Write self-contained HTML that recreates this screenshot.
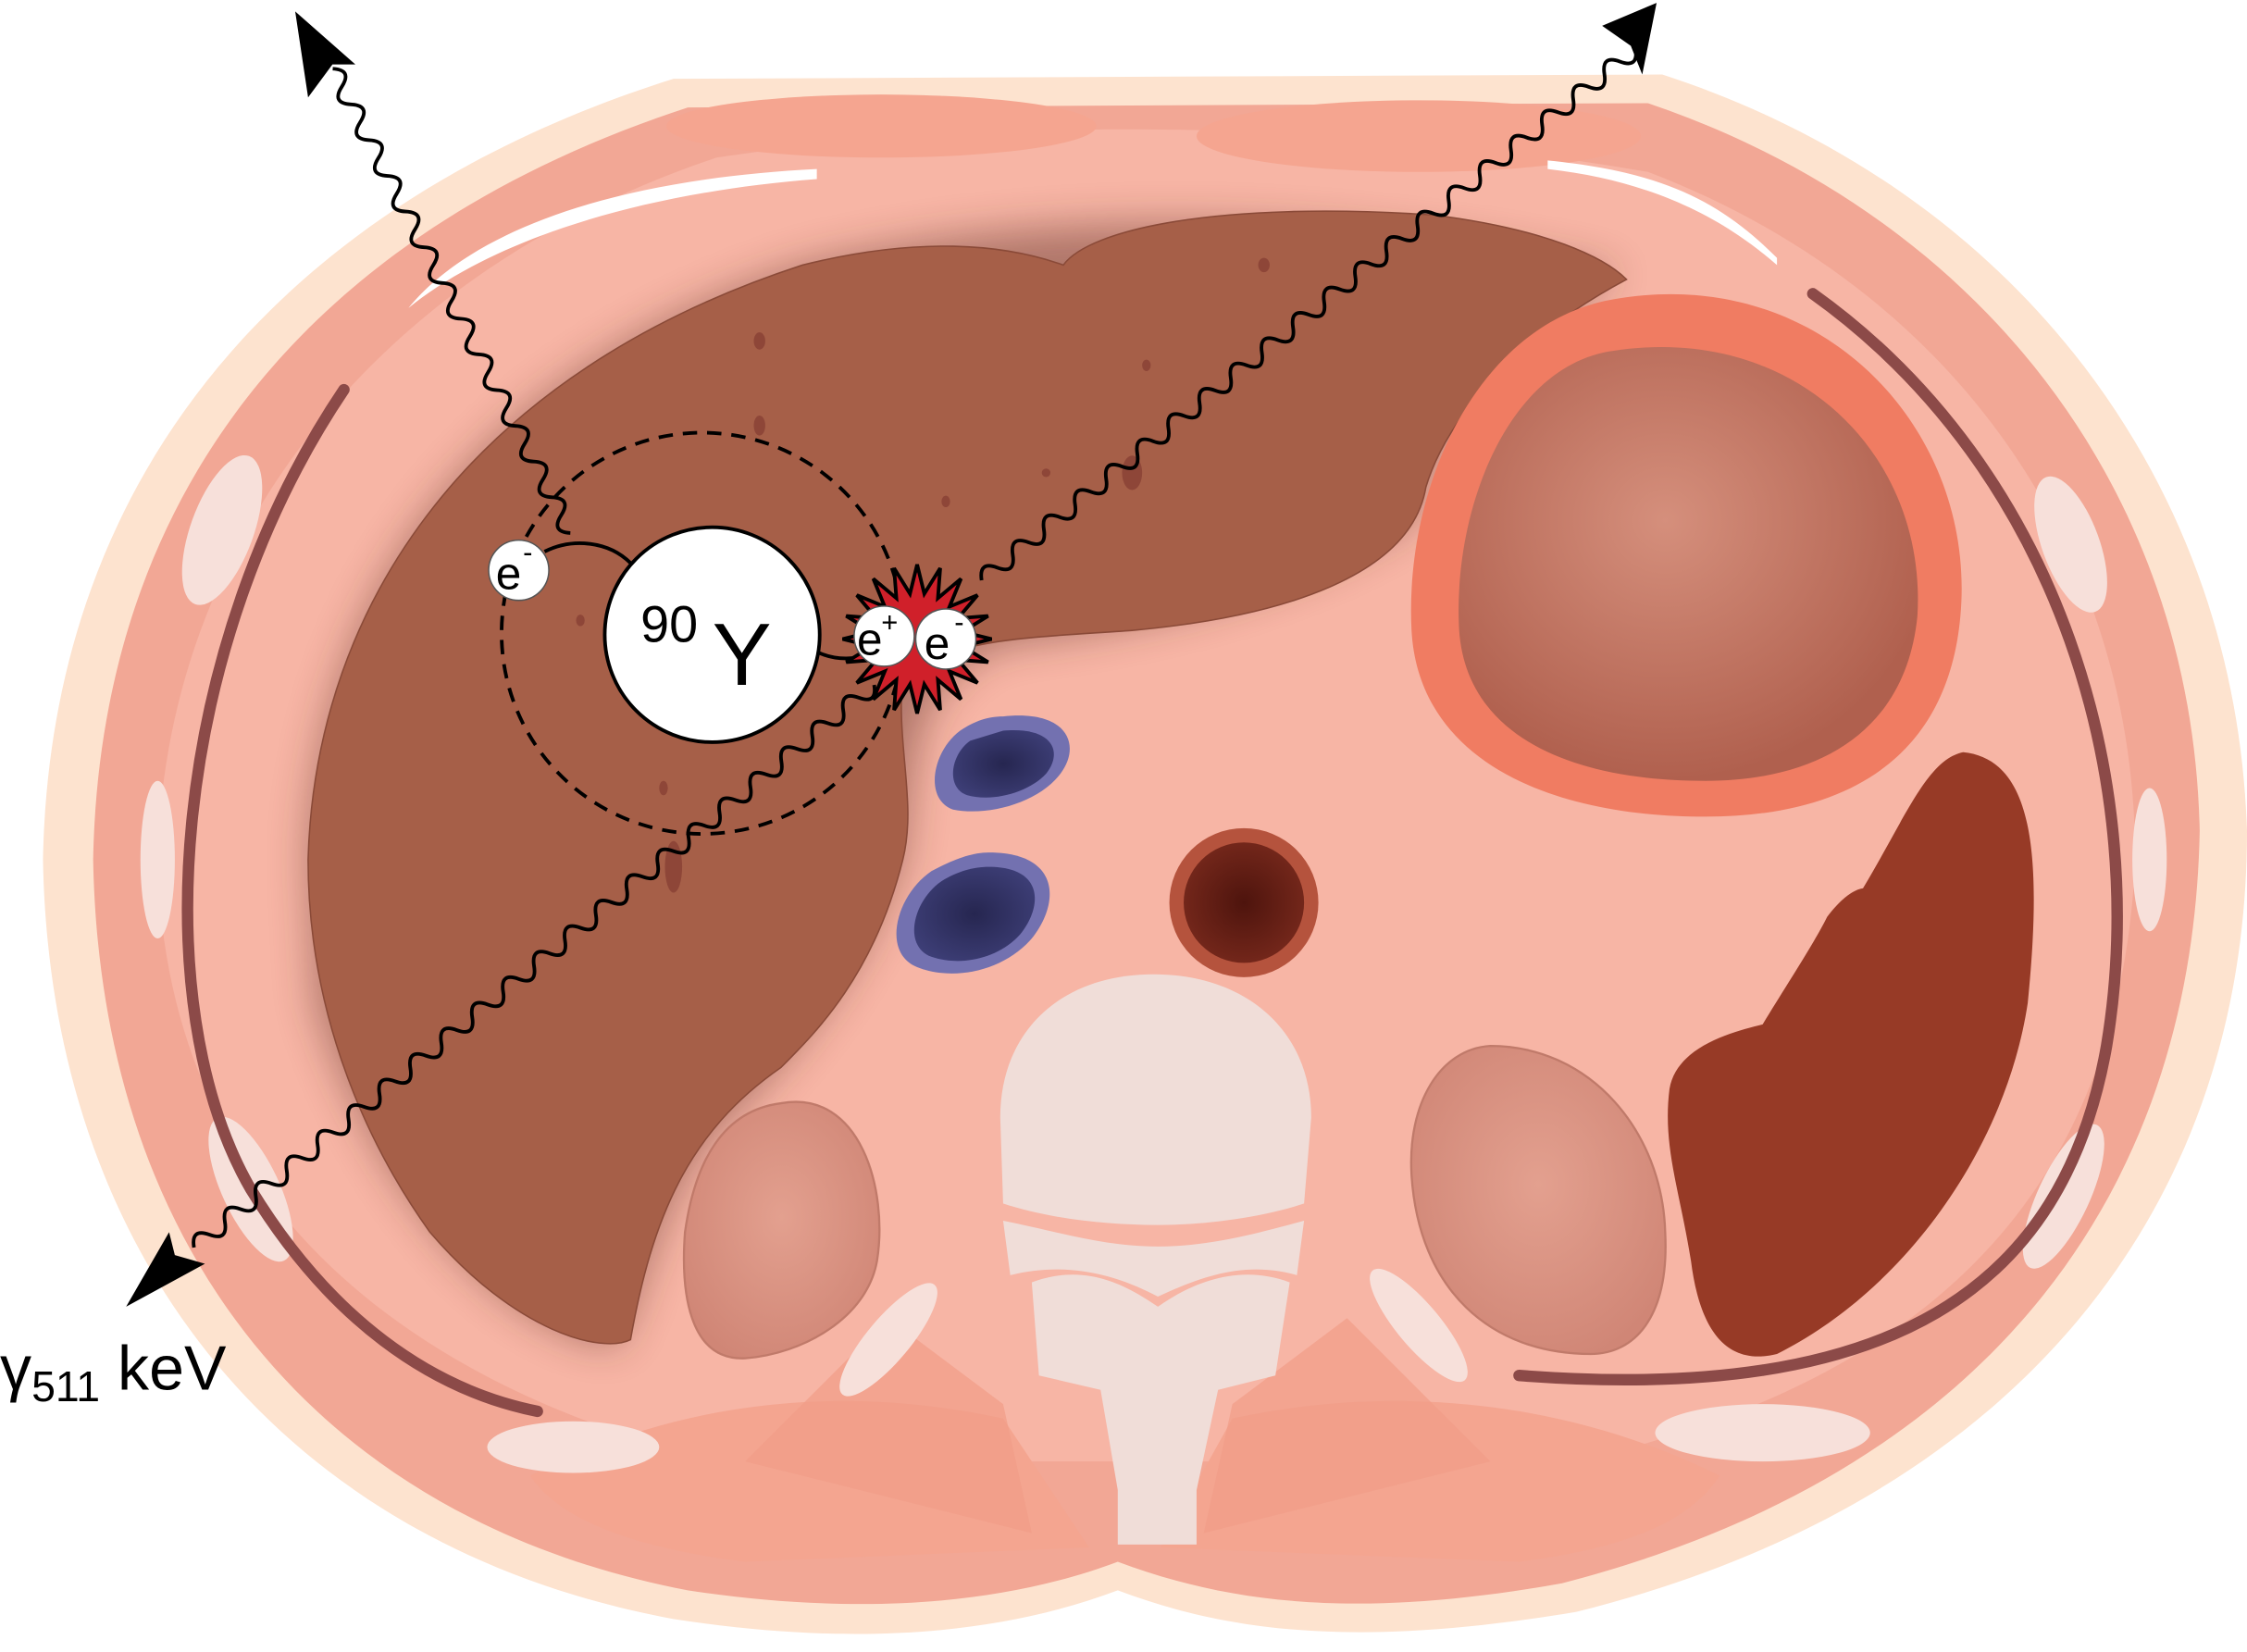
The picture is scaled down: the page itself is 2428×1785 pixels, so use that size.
<!DOCTYPE html>
<html><head><meta charset="utf-8"><style>
html,body{margin:0;padding:0;background:#fff;}
svg{display:block;}
</style></head><body>
<svg width="2428" height="1785" viewBox="0 0 1568 1153" preserveAspectRatio="none" xmlns="http://www.w3.org/2000/svg">
<defs>
<radialGradient id="stom" cx="0.45" cy="0.4" r="0.6"><stop offset="0" stop-color="#d58f7c"/><stop offset="1" stop-color="#b0604e"/></radialGradient>
<radialGradient id="kid" cx="0.5" cy="0.45" r="0.6"><stop offset="0" stop-color="#e3a08f"/><stop offset="1" stop-color="#d08676"/></radialGradient>
<radialGradient id="ivc" cx="0.5" cy="0.5" r="0.6"><stop offset="0" stop-color="#262650"/><stop offset="1" stop-color="#3e3f78"/></radialGradient>
<radialGradient id="ao" cx="0.5" cy="0.5" r="0.6"><stop offset="0" stop-color="#4e140d"/><stop offset="1" stop-color="#7a2a1d"/></radialGradient>
<filter id="sh" x="-20%" y="-20%" width="140%" height="140%"><feGaussianBlur stdDeviation="14"/></filter>
</defs>
<path d="M470,55 L1160,52 C1400,130 1560,330 1568,580 C1568,850 1400,1050 1100,1125 C950,1150 860,1140 780,1110 C700,1140 600,1150 470,1130 C200,1080 35,880 30,600 C35,330 200,140 470,55 Z" fill="#fde3cf"/>
<path d="M480,75 L1150,72 C1380,150 1530,340 1535,580 C1530,840 1380,1030 1090,1105 C950,1130 860,1120 780,1090 C700,1120 600,1128 480,1110 C220,1060 70,870 65,600 C70,340 220,160 480,75 Z" fill="#f2a795"/>
<path d="M500,110 C700,80 950,85 1150,120 C1360,200 1490,380 1490,600 C1480,820 1360,960 1100,1020 L500,1020 C260,960 115,820 110,600 C115,380 260,190 500,110 Z" fill="#f7b5a5"/>
<ellipse cx="615" cy="88" rx="150" ry="22" fill="#f5a590"/>
<ellipse cx="990" cy="95" rx="155" ry="25" fill="#f5a590"/>
<path d="M370,1030 C450,990 560,960 700,990 L760,1080 L520,1090 C440,1080 390,1060 370,1030Z" fill="#f4a590"/>
<path d="M1200,1030 C1120,990 1000,960 860,990 L810,1080 L1060,1090 C1140,1080 1180,1060 1200,1030Z" fill="#f4a590"/>
<path d="M520,1020 L620,920 L700,980 L720,1070Z" fill="#f19c88" opacity="0.7"/>
<path d="M1040,1020 L940,920 L860,980 L840,1070Z" fill="#f19c88" opacity="0.7"/>
<path d="M285,215 C330,160 430,125 570,118 L570,125 C440,135 340,170 285,215Z" fill="#fff"/>
<path d="M1240,180 C1200,140 1160,120 1080,112 L1080,118 C1150,126 1200,150 1240,185Z" fill="#fff"/>
<ellipse cx="155" cy="370" rx="22" ry="55" fill="#f7e0da" transform="rotate(20 155 370)"/>
<ellipse cx="110" cy="600" rx="12" ry="55" fill="#f7e0da"/>
<ellipse cx="175" cy="830" rx="20" ry="55" fill="#f7e0da" transform="rotate(-25 175 830)"/>
<ellipse cx="1445" cy="380" rx="20" ry="50" fill="#f7e0da" transform="rotate(-20 1445 380)"/>
<ellipse cx="1500" cy="600" rx="12" ry="50" fill="#f7e0da"/>
<ellipse cx="1440" cy="835" rx="18" ry="55" fill="#f7e0da" transform="rotate(25 1440 835)"/>
<ellipse cx="400" cy="1010" rx="60" ry="18" fill="#f7e0da"/>
<ellipse cx="1230" cy="1000" rx="75" ry="20" fill="#f7e0da"/>
<ellipse cx="620" cy="935" rx="15" ry="50" fill="#f7e0da" transform="rotate(40 620 935)"/>
<ellipse cx="990" cy="925" rx="15" ry="50" fill="#f7e0da" transform="rotate(-40 990 925)"/>
<path d="M240,272 C120,450 100,700 175,830 C230,920 300,970 375,985" fill="none" stroke="#8c4a48" stroke-width="8" stroke-linecap="round"/>
<path d="M1265,205 C1440,330 1500,550 1470,730 C1440,900 1320,980 1060,960" fill="none" stroke="#8c4a48" stroke-width="8" stroke-linecap="round"/>
<path d="M215,600 C220,420 330,260 560,185 C700,150 900,140 1130,190 C1060,240 1000,300 990,360 C900,420 780,440 700,450 C630,480 640,540 630,600 C600,680 560,730 500,790 C460,840 450,900 430,940 C350,930 260,830 220,700Z" fill="#5a2a20" opacity="0.45" filter="url(#sh)"/>
<path d="M215,600 C220,420 330,260 560,185 C640,165 700,170 742,185 C760,160 850,140 1000,150 C1080,160 1120,180 1135,195 C1060,235 1010,290 995,340 C985,400 900,430 790,440 C720,445 670,445 630,470 C625,520 640,560 630,600 C610,680 570,720 545,745 C480,790 455,850 440,935 C420,945 360,930 300,860 C250,790 215,700 215,600Z" fill="#a65f48" stroke="#8a4a38" stroke-width="1"/>
<g fill="#8e4638"><ellipse cx="530" cy="238" rx="4" ry="6"/><ellipse cx="882" cy="185" rx="4" ry="5"/><ellipse cx="800" cy="255" rx="3" ry="4"/><ellipse cx="530" cy="297" rx="4" ry="7"/><ellipse cx="790" cy="330" rx="7" ry="12"/><ellipse cx="660" cy="350" rx="3" ry="4"/><ellipse cx="405" cy="433" rx="3" ry="4"/><ellipse cx="463" cy="550" rx="3" ry="5"/><ellipse cx="470" cy="605" rx="6" ry="18"/><ellipse cx="730" cy="330" rx="3" ry="3"/></g>
<path d="M1120,210 C1270,180 1380,300 1368,430 C1360,520 1300,570 1190,570 C1080,570 990,530 985,440 C980,340 1030,230 1120,210Z" fill="#f07c62"/>
<path d="M1125,245 C1250,225 1345,315 1338,430 C1330,510 1270,545 1190,545 C1090,545 1020,510 1018,435 C1015,350 1055,255 1125,245Z" fill="url(#stom)"/>
<path d="M1370,525 C1420,530 1425,600 1415,700 C1400,800 1330,900 1240,945 C1200,955 1185,920 1180,880 C1172,830 1160,800 1165,760 C1170,730 1210,720 1230,715 C1245,690 1265,660 1275,640 C1290,620 1300,620 1300,620 C1330,570 1345,530 1370,525Z" fill="#973a26"/>
<path d="M545,770 C600,760 620,830 612,880 C605,920 560,945 520,948 C480,950 475,900 478,860 C485,810 505,775 545,770Z" fill="url(#kid)" stroke="#c07a6a" stroke-width="1.5"/>
<path d="M1040,730 C1110,730 1160,790 1162,860 C1165,920 1140,945 1110,945 C1040,945 990,900 985,820 C982,770 1005,732 1040,730Z" fill="url(#kid)" stroke="#c07a6a" stroke-width="1.5"/>
<path d="M805,680 C870,680 915,720 915,780 L910,840 C880,850 840,855 808,855 C770,855 730,850 700,840 L698,780 C698,720 740,680 805,680Z" fill="#f0ddd8"/>
<path d="M700,852 C740,860 770,870 808,870 C845,870 880,860 910,852 L905,890 C870,880 840,890 808,905 C780,890 745,880 705,890Z" fill="#f0ddd8"/>
<path d="M720,895 C760,880 790,900 808,912 C825,900 860,880 900,895 L890,960 L850,970 L835,1040 L835,1078 L780,1078 L780,1040 L768,970 L725,960Z" fill="#f0ddd8"/>
<circle cx="868" cy="630" r="52" fill="#b5533d"/>
<circle cx="868" cy="630" r="42" fill="url(#ao)"/>
<path d="M700,500 C745,495 755,520 740,540 C725,560 690,570 665,565 C645,558 650,525 670,510 C680,503 690,500 700,500Z" fill="#7371b0"/>
<path d="M700,510 C735,507 742,525 730,540 C718,553 693,560 675,555 C660,550 663,527 677,517Z" fill="url(#ivc)"/>
<path d="M690,595 C740,595 740,630 720,655 C700,678 665,685 640,675 C615,665 625,625 650,608 C665,600 678,595 690,595Z" fill="#7371b0"/>
<path d="M690,605 C728,605 728,632 712,652 C696,670 668,675 648,667 C630,658 638,628 657,615 C668,608 680,605 690,605Z" fill="url(#ivc)"/>
<circle cx="490" cy="442" r="140" fill="none" stroke="#000" stroke-width="2.5" stroke-dasharray="10,7"/>
<g fill="none" stroke="#000" stroke-width="2.5">
<path transform="translate(398,372) rotate(-117.1)" d="M0,0 q7,-12 14,0 t14,0 t14,0 t14,0 t14,0 t14,0 t14,0 t14,0 t14,0 t14,0 t14,0 t14,0 t14,0 t14,0 t14,0 t14,0 t14,0 t14,0 t14,0 t14,0 t14,0 t14,0 t14,0 t14,0 t14,0 t14,0"/>
<path transform="translate(685,405) rotate(-39.1)" d="M0,0 q7,-12 14,0 t14,0 t14,0 t14,0 t14,0 t14,0 t14,0 t14,0 t14,0 t14,0 t14,0 t14,0 t14,0 t14,0 t14,0 t14,0 t14,0 t14,0 t14,0 t14,0 t14,0 t14,0 t14,0 t14,0 t14,0 t14,0 t14,0 t14,0 t14,0 t14,0 t14,0 t14,0 t14,0 t14,0 t14,0 t14,0 t14,0 t14,0 t14,0 t14,0 t14,0 t14,0"/>
<path transform="translate(610,478) rotate(140.4)" d="M0,0 q7,-12 14,0 t14,0 t14,0 t14,0 t14,0 t14,0 t14,0 t14,0 t14,0 t14,0 t14,0 t14,0 t14,0 t14,0 t14,0 t14,0 t14,0 t14,0 t14,0 t14,0 t14,0 t14,0 t14,0 t14,0 t14,0 t14,0 t14,0 t14,0 t14,0 t14,0 t14,0 t14,0 t14,0 t14,0 t14,0 t14,0 t14,0 t14,0 t14,0 t14,0 t14,0 t14,0 t14,0 t14,0"/>
<path d="M380,385 C400,375 425,378 440,393"/>
<path d="M570,455 C585,462 600,460 612,455"/>
</g>
<polygon fill="#d0202a" stroke="#000" stroke-width="2.5" stroke-linejoin="miter" points="692,446 671.6,451 689.5,462.1 668.5,460.5 682.1,476.6 662.6,468.6 670.6,488.1 654.5,474.5 656.1,495.5 645,477.6 640,498 635,477.6 623.9,495.5 625.5,474.5 609.4,488.1 617.4,468.6 597.9,476.6 611.5,460.5 590.5,462.1 608.4,451 588,446 608.4,441 590.5,429.9 611.5,431.5 597.9,415.4 617.4,423.4 609.4,403.9 625.5,417.5 623.9,396.5 635,414.4 640,394 645,414.4 656.1,396.5 654.5,417.5 670.6,403.9 662.6,423.4 682.1,415.4 668.5,431.5 689.5,429.9 671.6,441"/>
<circle cx="497" cy="443" r="75" fill="#fff" stroke="#000" stroke-width="2.5"/>
<text x="447" y="448" font-family="Liberation Sans, sans-serif" font-size="36" fill="#000">90</text>
<text x="497" y="478" font-family="Liberation Sans, sans-serif" font-size="62" fill="#000">Y</text>
<circle cx="362" cy="398" r="21" fill="#fff" stroke="#555" stroke-width="1"/>
<text x="346" y="411" font-family="Liberation Sans, sans-serif" font-size="32">e</text><text x="365" y="392" font-family="Liberation Sans, sans-serif" font-size="20">-</text>
<circle cx="617" cy="444" r="21" fill="#fff" stroke="#555" stroke-width="1"/>
<text x="598" y="457" font-family="Liberation Sans, sans-serif" font-size="32">e</text><text x="615" y="441" font-family="Liberation Sans, sans-serif" font-size="20">+</text>
<circle cx="660" cy="446" r="21" fill="#fff" stroke="#555" stroke-width="1"/>
<text x="645" y="460" font-family="Liberation Sans, sans-serif" font-size="32">e</text><text x="666" y="441" font-family="Liberation Sans, sans-serif" font-size="20">-</text>
<polygon points="206,8 248,45 232,45 215,68" fill="#000"/>
<polygon points="1156,2 1118,18 1138,32 1146,52" fill="#000"/>
<polygon points="88,912 143,882 122,876 118,860" fill="#000"/>
<text x="0" y="970" font-family="Liberation Sans, sans-serif" font-size="44" fill="#000">γ<tspan font-size="30" dy="8">511</tspan><tspan dy="-8"> keV</tspan></text>
</svg>
</body></html>
